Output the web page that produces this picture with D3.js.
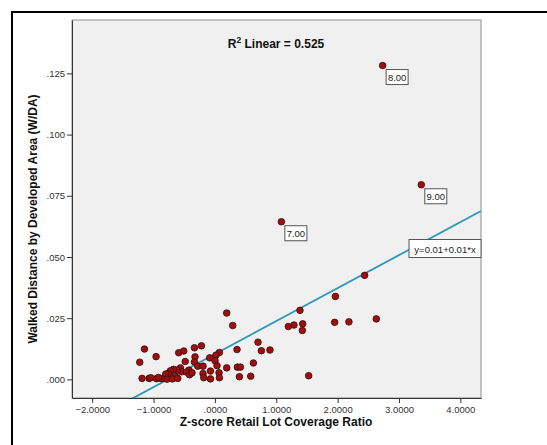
<!DOCTYPE html>
<html>
<head>
<meta charset="utf-8">
<script src="https://cdn.jsdelivr.net/npm/d3@7"></script>
<style>
  body { margin: 0; background: #ffffff; }
  svg { display: block; }
  text { font-family: "Liberation Sans", Arial, sans-serif; }
</style>
</head>
<body>
<script>
// Z-score of retail lot coverage ratio (x) and walked distance by developed area (y)
const zScore = [
  2.733, 3.363, 1.083,
  2.440, 1.963, 1.386, 1.197, 1.288, 1.430, 1.425, 1.951, 2.184, 2.630,
  0.702, 0.757, 0.897, 1.528, 0.192, 0.290, 0.360, 0.627, 0.583, 0.399,
  0.366, 0.415, 0.192, 0.073, 0.018, -0.085, -0.334, -0.220, -0.324, -0.334,
  -0.280, -0.194, 0.002, 0.034, -0.073, -0.194, -0.182, -0.073, 0.067, 0.073,
  -0.394,
  -1.148, -1.225, -0.959, -0.590, -0.508, -0.484, -0.562, -0.541, -0.617,
  -0.676, -0.725, -0.757, -0.801, -0.650, -0.422, -0.464, -0.415, -0.373,
  -1.187, -1.073, -0.953, -0.871, -0.780, -0.692, -0.606, -1.046, -0.920
];
const walkedDistance = [
  0.1282, 0.0795, 0.0644,
  0.0425, 0.0339, 0.0282, 0.0216, 0.0222, 0.0227, 0.0200, 0.0233, 0.0235, 0.0247,
  0.0152, 0.0117, 0.0120, 0.0015, 0.0271, 0.0220, 0.0122, 0.0067, 0.0013, 0.0011,
  0.0050, 0.0050, 0.0047, 0.0110, 0.0099, 0.0088, 0.0129, 0.0137, 0.0092, 0.0071,
  0.0054, 0.0054, 0.0076, 0.0056, 0.0034, 0.0024, 0.0007, 0.0002, 0.0027, 0.0007,
  0.0024,
  0.0124, 0.0070, 0.0093, 0.0109, 0.0116, 0.0073, 0.0047, 0.0031, 0.0038,
  0.0041, 0.0035, 0.0024, 0.0022, 0.0012, 0.0038, 0.0030, 0.0019, 0.0027,
  0.0004, 0.0004, 0.0003, 0.0003, 0.0001, 0.0002, 0.0004, 0.0007, 0.0008
];
// Case labels shown beside selected points
const labelledCase = [0, 1, 2];
const labelledText = ["8.00", "9.00", "7.00"];

const xTicks = [-2, -1, 0, 1, 2, 3, 4];
const yTicks = [0, 0.025, 0.05, 0.075, 0.1, 0.125];
const xDomain = [-2.329, 4.336];
const yDomain = [-0.0076, 0.1468];
const rSquared = 0.525;

const W = 547, H = 445;
const plot = { left: 72, right: 481, top: 20, bottom: 398 };

const svg = d3.select("body").append("svg").attr("width", W).attr("height", H);

// outer frame
svg.append("rect")
  .attr("x", 12).attr("y", 12).attr("width", 600).attr("height", 500)
  .attr("fill", "#ffffff").attr("stroke", "#000").attr("stroke-width", 2);

const x = d3.scaleLinear().domain(xDomain).range([plot.left, plot.right]);
const y = d3.scaleLinear().domain(yDomain).range([plot.bottom, plot.top]);

// plot background
svg.append("rect")
  .attr("x", plot.left).attr("y", plot.top)
  .attr("width", plot.right - plot.left).attr("height", plot.bottom - plot.top)
  .attr("fill", "#f0f0f0").attr("stroke", "#8e8e8e").attr("stroke-width", 1);

svg.append("clipPath").attr("id", "plotClip").append("rect")
  .attr("x", plot.left).attr("y", plot.top)
  .attr("width", plot.right - plot.left).attr("height", plot.bottom - plot.top);

const stripZero = s => s.replace(/^(-?)0\./, "$1.");

const xAxis = d3.axisBottom(x).tickValues(xTicks).tickSizeOuter(0).tickSizeInner(5).tickPadding(3)
  .tickFormat(d => stripZero(d3.format(".4f")(d)));
const gx = svg.append("g").attr("transform", `translate(0,${plot.bottom})`).call(xAxis);
gx.select(".domain").attr("stroke", "#333");
gx.selectAll(".tick line").attr("stroke", "#333");
gx.selectAll(".tick text").attr("fill", "#333").attr("font-size", 9.5)
  .style("font-family", '"Liberation Sans", Arial, sans-serif');

const yAxis = d3.axisLeft(y).tickValues(yTicks).tickSizeOuter(0).tickSizeInner(5).tickPadding(2)
  .tickFormat(d => stripZero(d3.format(".3f")(d)));
const gy = svg.append("g").attr("transform", `translate(${plot.left},0)`).call(yAxis);
gy.select(".domain").attr("stroke", "#333");
gy.selectAll(".tick line").attr("stroke", "#333");
gy.selectAll(".tick text").attr("fill", "#333").attr("font-size", 9.5)
  .style("font-family", '"Liberation Sans", Arial, sans-serif');

// least-squares linear fit
const n = zScore.length;
const mx = d3.mean(zScore), my = d3.mean(walkedDistance);
let sxy = 0, sxx = 0;
for (let i = 0; i < n; i++) {
  sxy += (zScore[i] - mx) * (walkedDistance[i] - my);
  sxx += (zScore[i] - mx) ** 2;
}
const slope = sxy / sxx;
const intercept = my - slope * mx;

svg.append("line")
  .attr("clip-path", "url(#plotClip)")
  .attr("x1", x(xDomain[0])).attr("y1", y(intercept + slope * xDomain[0]))
  .attr("x2", x(xDomain[1])).attr("y2", y(intercept + slope * xDomain[1]))
  .attr("stroke", "#2b97bd").attr("stroke-width", 1.8);

// points
svg.append("g").selectAll("circle")
  .data(d3.range(n))
  .join("circle")
  .attr("cx", i => x(zScore[i]))
  .attr("cy", i => y(walkedDistance[i]))
  .attr("r", 3.3)
  .attr("fill", "#9e0f0f")
  .attr("stroke", "#3a0a0a")
  .attr("stroke-width", 0.8);

// case labels
labelledCase.forEach((idx, k) => {
  const bx = x(zScore[idx]) + 3.5, by = y(walkedDistance[idx]) + 4;
  const g = svg.append("g");
  g.append("rect").attr("x", bx).attr("y", by).attr("width", 22).attr("height", 15)
    .attr("fill", "#fff").attr("stroke", "#555").attr("stroke-width", 1);
  g.append("text").attr("x", bx + 11).attr("y", by + 11)
    .attr("text-anchor", "middle").attr("font-size", 9.5).attr("fill", "#222")
    .text(labelledText[k]);
});

// fit equation label
const fmt2 = d3.format(".2f");
const eqG = svg.append("g");
eqG.append("rect").attr("x", plot.right - 72).attr("y", 239.5).attr("width", 72).attr("height", 18)
  .attr("fill", "#fff").attr("stroke", "#555").attr("stroke-width", 1);
eqG.append("text").attr("x", plot.right - 36).attr("y", 252.5)
  .attr("text-anchor", "middle").attr("font-size", 9.5).attr("fill", "#222")
  .text(`y=${fmt2(intercept)}+${fmt2(slope)}*x`);

// R squared title
const t = svg.append("text").attr("x", 276).attr("y", 48)
  .attr("text-anchor", "middle").attr("font-size", 12).attr("font-weight", "bold").attr("fill", "#111");
t.append("tspan").text("R");
t.append("tspan").attr("dy", -5).attr("font-size", 8.5).text("2");
t.append("tspan").attr("dy", 5).text(` Linear = ${d3.format(".3f")(rSquared)}`);

// axis titles
svg.append("text").attr("x", 276).attr("y", 426)
  .attr("text-anchor", "middle").attr("font-size", 12).attr("font-weight", "bold").attr("fill", "#111")
  .text("Z-score Retail Lot Coverage Ratio");
svg.append("text").attr("transform", `translate(37,${(plot.top + plot.bottom) / 2 + 10}) rotate(-90)`)
  .attr("text-anchor", "middle").attr("font-size", 12).attr("font-weight", "bold").attr("fill", "#111")
  .text("Walked Distance by Developed Area (W/DA)");
</script>
</body>
</html>
